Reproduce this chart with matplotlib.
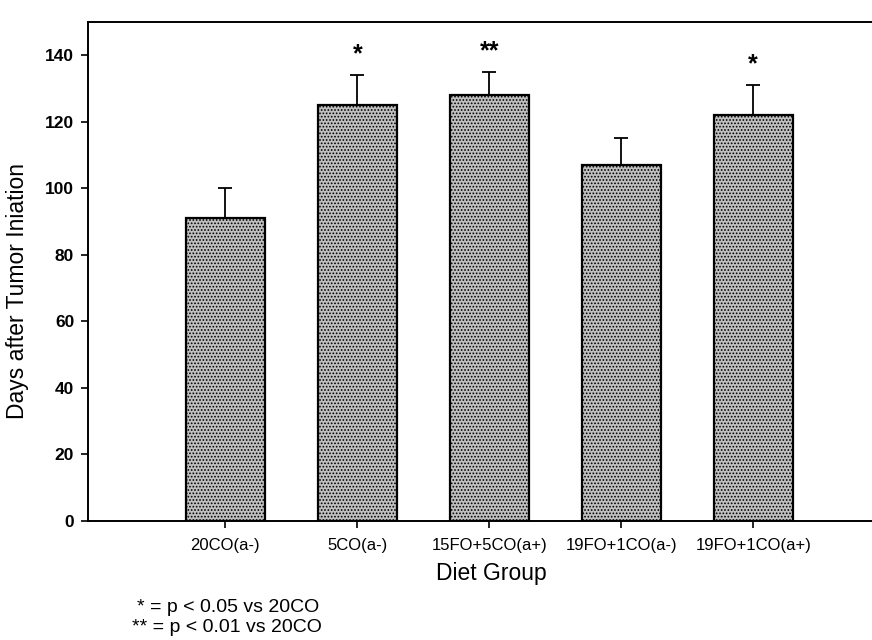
import numpy as np
import matplotlib
matplotlib.use("Agg")
from matplotlib import pyplot as plt

plt.rcParams['font.family'] = ['Liberation Sans', 'DejaVu Sans']
plt.rcParams['hatch.color'] = '#5a5a5a'
plt.rcParams['hatch.linewidth'] = 0.8

# data
groups = ['20CO(a-)', '5CO(a-)', '15FO+5CO(a+)', '19FO+1CO(a-)', '19FO+1CO(a+)']
days = [91, 125, 128, 107, 122]
sem = [9, 9, 7, 8, 9]
marks = ['', '*', '**', '', '*']
yticks = [0, 20, 40, 60, 80, 100, 120, 140]

fig = plt.figure(figsize=(8.72, 6.4), dpi=100)
ax = fig.add_axes([0.101, 0.186, 0.899, 0.780])

x = np.arange(len(groups))
ax.bar(x, days, width=0.6, color='#c0c0c0', edgecolor='black', linewidth=1.6,
       hatch='.....', zorder=2)
ax.errorbar(x, days, yerr=[np.zeros(len(sem)), sem], fmt='none', ecolor='black',
            elinewidth=1.3, capsize=5, capthick=1.3, zorder=3)

for xi, d, e, m in zip(x, days, sem, marks):
    if m:
        ax.text(xi, d + e + 2.5, m, ha='center', va='bottom', fontsize=18,
                fontweight='bold')

ax.set_xlim(-1.04, 4.9)
ax.set_ylim(0, 150)
ax.set_xticks(x)
ax.set_xticklabels(groups, fontsize=12)
ax.set_yticks(yticks)
ax.set_yticklabels([str(t) for t in yticks], fontsize=12.5, fontweight='bold')
ax.tick_params(axis='both', direction='out', length=5, width=1.2, pad=5)
ax.tick_params(axis='x', pad=7)

ax.spines['right'].set_visible(False)
for s in ['left', 'bottom', 'top']:
    ax.spines[s].set_linewidth(1.4)

ax.set_ylabel('Days after Tumor Iniation', fontsize=16.5)
ax.yaxis.set_label_coords(-0.075, 0.46)
ax.set_xlabel('Diet Group', fontsize=16.5)
ax.xaxis.set_label_coords(0.514, -0.082)

fig.text(0.157, 0.05, '* = p < 0.05 vs 20CO', fontsize=14, va='center')
fig.text(0.151, 0.019, '** = p < 0.01 vs 20CO', fontsize=14, va='center')

fig.savefig('out.png', dpi=100)
